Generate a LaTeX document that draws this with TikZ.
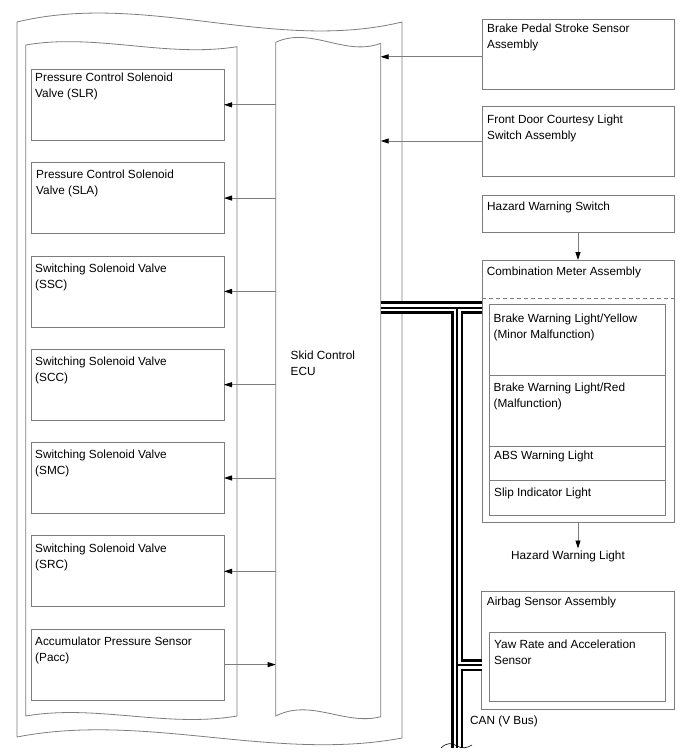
\documentclass[tikz,border=0pt]{standalone}
\usepackage{fontspec}
\setmainfont{Liberation Sans}
\usetikzlibrary{arrows.meta}
\definecolor{linec}{RGB}{125,125,125}
\newcommand\tfont{\fontsize{11.8}{16}\selectfont}
\begin{document}
\begin{tikzpicture}[x=1pt,y=-1pt,
  ln/.style={draw=linec, line width=0.8pt},
  bx/.style={ln, anchor=north west, inner sep=0pt, outer sep=0pt},
  txt/.style={anchor=base west, align=left, inner sep=0pt, font=\tfont},
  txtb/.style={txt, yshift=-16pt},
  arr/.style={draw=linec, line width=0.8pt, -{Triangle[length=8pt,width=5pt,black]}}]
\useasboundingbox (0,0) rectangle (688,755);

% outer frame
\draw[ln] (17,22) .. controls (145,-9) and (274,53) .. (402,22) -- (402,738)
  .. controls (274,762) and (145,712) .. (17,737) -- cycle;
% inner left frame
\draw[ln] (25.7,45) .. controls (96,33) and (166,58) .. (237,46.7) -- (237,716)
  .. controls (166,728) and (96,704) .. (25.7,716) -- cycle;
% ECU
\node[minimum width=105pt, minimum height=673pt, anchor=north west, inner sep=0pt, outer sep=0pt] (ecu) at (275.7,43) {};
\draw[ln] (275.7,42.3) .. controls (311,26) and (345,57) .. (380.7,43.3) -- (380.7,716.7)
  .. controls (345,726) and (311,698) .. (275.7,716) -- cycle;
\node[txtb] (ecut) at (290.5,359) {Skid Control\\ECU};

% left boxes
\node[bx, minimum width=193pt, minimum height=71pt] (v1) at (31,69.3) {};
\node[txtb] (v1t) at (35,81.6) {Pressure Control Solenoid\\Valve (SLR)};
\draw[arr] (ecu.west |- v1.east) -- (v1.east);

\node[bx, minimum width=193pt, minimum height=71pt] (v2) at (31,162.6) {};
\node[txtb] (v2t) at (36,178.9) {Pressure Control Solenoid\\Valve (SLA)};
\draw[arr] (ecu.west |- v2.east) -- (v2.east);

\node[bx, minimum width=193pt, minimum height=71pt] (v3) at (31,255.9) {};
\node[txtb] (v3t) at (35,272.2) {Switching Solenoid Valve\\(SSC)};
\draw[arr] (ecu.west |- v3.east) -- (v3.east);

\node[bx, minimum width=193pt, minimum height=71pt] (v4) at (31,349.2) {};
\node[txtb] (v4t) at (35,365.5) {Switching Solenoid Valve\\(SCC)};
\draw[arr] (ecu.west |- v4.east) -- (v4.east);

\node[bx, minimum width=193pt, minimum height=71pt] (v5) at (31,442.5) {};
\node[txtb] (v5t) at (35,458.8) {Switching Solenoid Valve\\(SMC)};
\draw[arr] (ecu.west |- v5.east) -- (v5.east);

\node[bx, minimum width=193pt, minimum height=71pt] (v6) at (31,535.8) {};
\node[txtb] (v6t) at (35,552.1) {Switching Solenoid Valve\\(SRC)};
\draw[arr] (ecu.west |- v6.east) -- (v6.east);

\node[bx, minimum width=193pt, minimum height=71pt] (v7) at (31,629.1) {};
\node[txtb] (v7t) at (35,645.4) {Accumulator Pressure Sensor\\(Pacc)};
\draw[arr] (v7.east) -- (ecu.west |- v7.east);

% right boxes
\node[bx, minimum width=192pt, minimum height=70pt] (bp) at (482,19.3) {};
\node[txtb] (bpt) at (487,32.6) {Brake Pedal Stroke Sensor\\Assembly};
\coordinate (bpa) at ([yshift=-2.5pt]bp.west);
\draw[arr] (bpa) -- (bpa -| ecu.east);

\node[bx, minimum width=192pt, minimum height=70pt] (fd) at (482,106) {};
\node[txtb] (fdt) at (487,123.3) {Front Door Courtesy Light\\Switch Assembly};
\draw[arr] (fd.west) -- (fd.west -| ecu.east);

\node[bx, minimum width=192pt, minimum height=37.5pt] (hz) at (482,195) {};
\node[txt] (hzt) at (487,210.3) {Hazard Warning Switch};

\node[bx, minimum width=192pt, minimum height=262pt] (cm) at (482,260) {};
\node[txt] (cmt) at (486.7,275.3) {Combination Meter Assembly};
\draw[arr] (hz.south) -- (cm.north);
\coordinate (dl) at (482,298);
\draw[ln, dash pattern=on 4pt off 3pt] (dl) -- (dl -| cm.east);

\node[bx, minimum width=176.5pt, minimum height=71.7pt] (ry) at (489,304) {};
\node[txtb] (ryt) at (493.5,322.3) {Brake Warning Light/Yellow\\(Minor Malfunction)};
\node[bx, minimum width=176.5pt, minimum height=70.3pt] (rr) at (489,375.7) {};
\node[txtb] (rrt) at (493.5,391) {Brake Warning Light/Red\\(Malfunction)};
\node[bx, minimum width=176.5pt, minimum height=34.7pt] (ra) at (489,446) {};
\node[txt] (rat) at (494,459.3) {ABS Warning Light};
\node[bx, minimum width=176.5pt, minimum height=34.3pt] (rs) at (489,480.7) {};
\node[txt] (rst) at (494,496) {Slip Indicator Light};

\node[txt, anchor=base] (hwl) at (568,559.3) {Hazard Warning Light};
\draw[arr, shorten >=2pt] (cm.south) -- (cm.south |- hwl.north);

\node[bx, minimum width=192.5pt, minimum height=118.3pt] (ab) at (481.5,591) {};
\node[txt] (abt) at (486.7,605.3) {Airbag Sensor Assembly};
\node[bx, minimum width=176.7pt, minimum height=68.7pt] (yaw) at (489,632.3) {};
\node[txtb] (yawt) at (494,648.6) {Yaw Rate and Acceleration\\Sensor};

% CAN bus
\coordinate (j1) at (457,307.5);
\coordinate (j2) at (457,665);
\coordinate (be) at (457,748);
\foreach \w/\c in {12.5pt/black, 7pt/white, 2pt/black}
  \draw[line width=\w, \c] (ecu.east |- j1) -- (cm.west |- j1) (j1) -- (be) (j2) -- (ab.west |- j2);
\coordinate (k1) at (441,748);
\coordinate (k2) at (472,745);
\draw[black, line width=0.6pt] (k1) .. controls (447,742) and (452,743) .. (457,746)
  .. controls (462,749) and (467,748) .. (k2);
\node[txt] (can) at (470,724.3) {CAN (V Bus)};
\end{tikzpicture}
\end{document}
